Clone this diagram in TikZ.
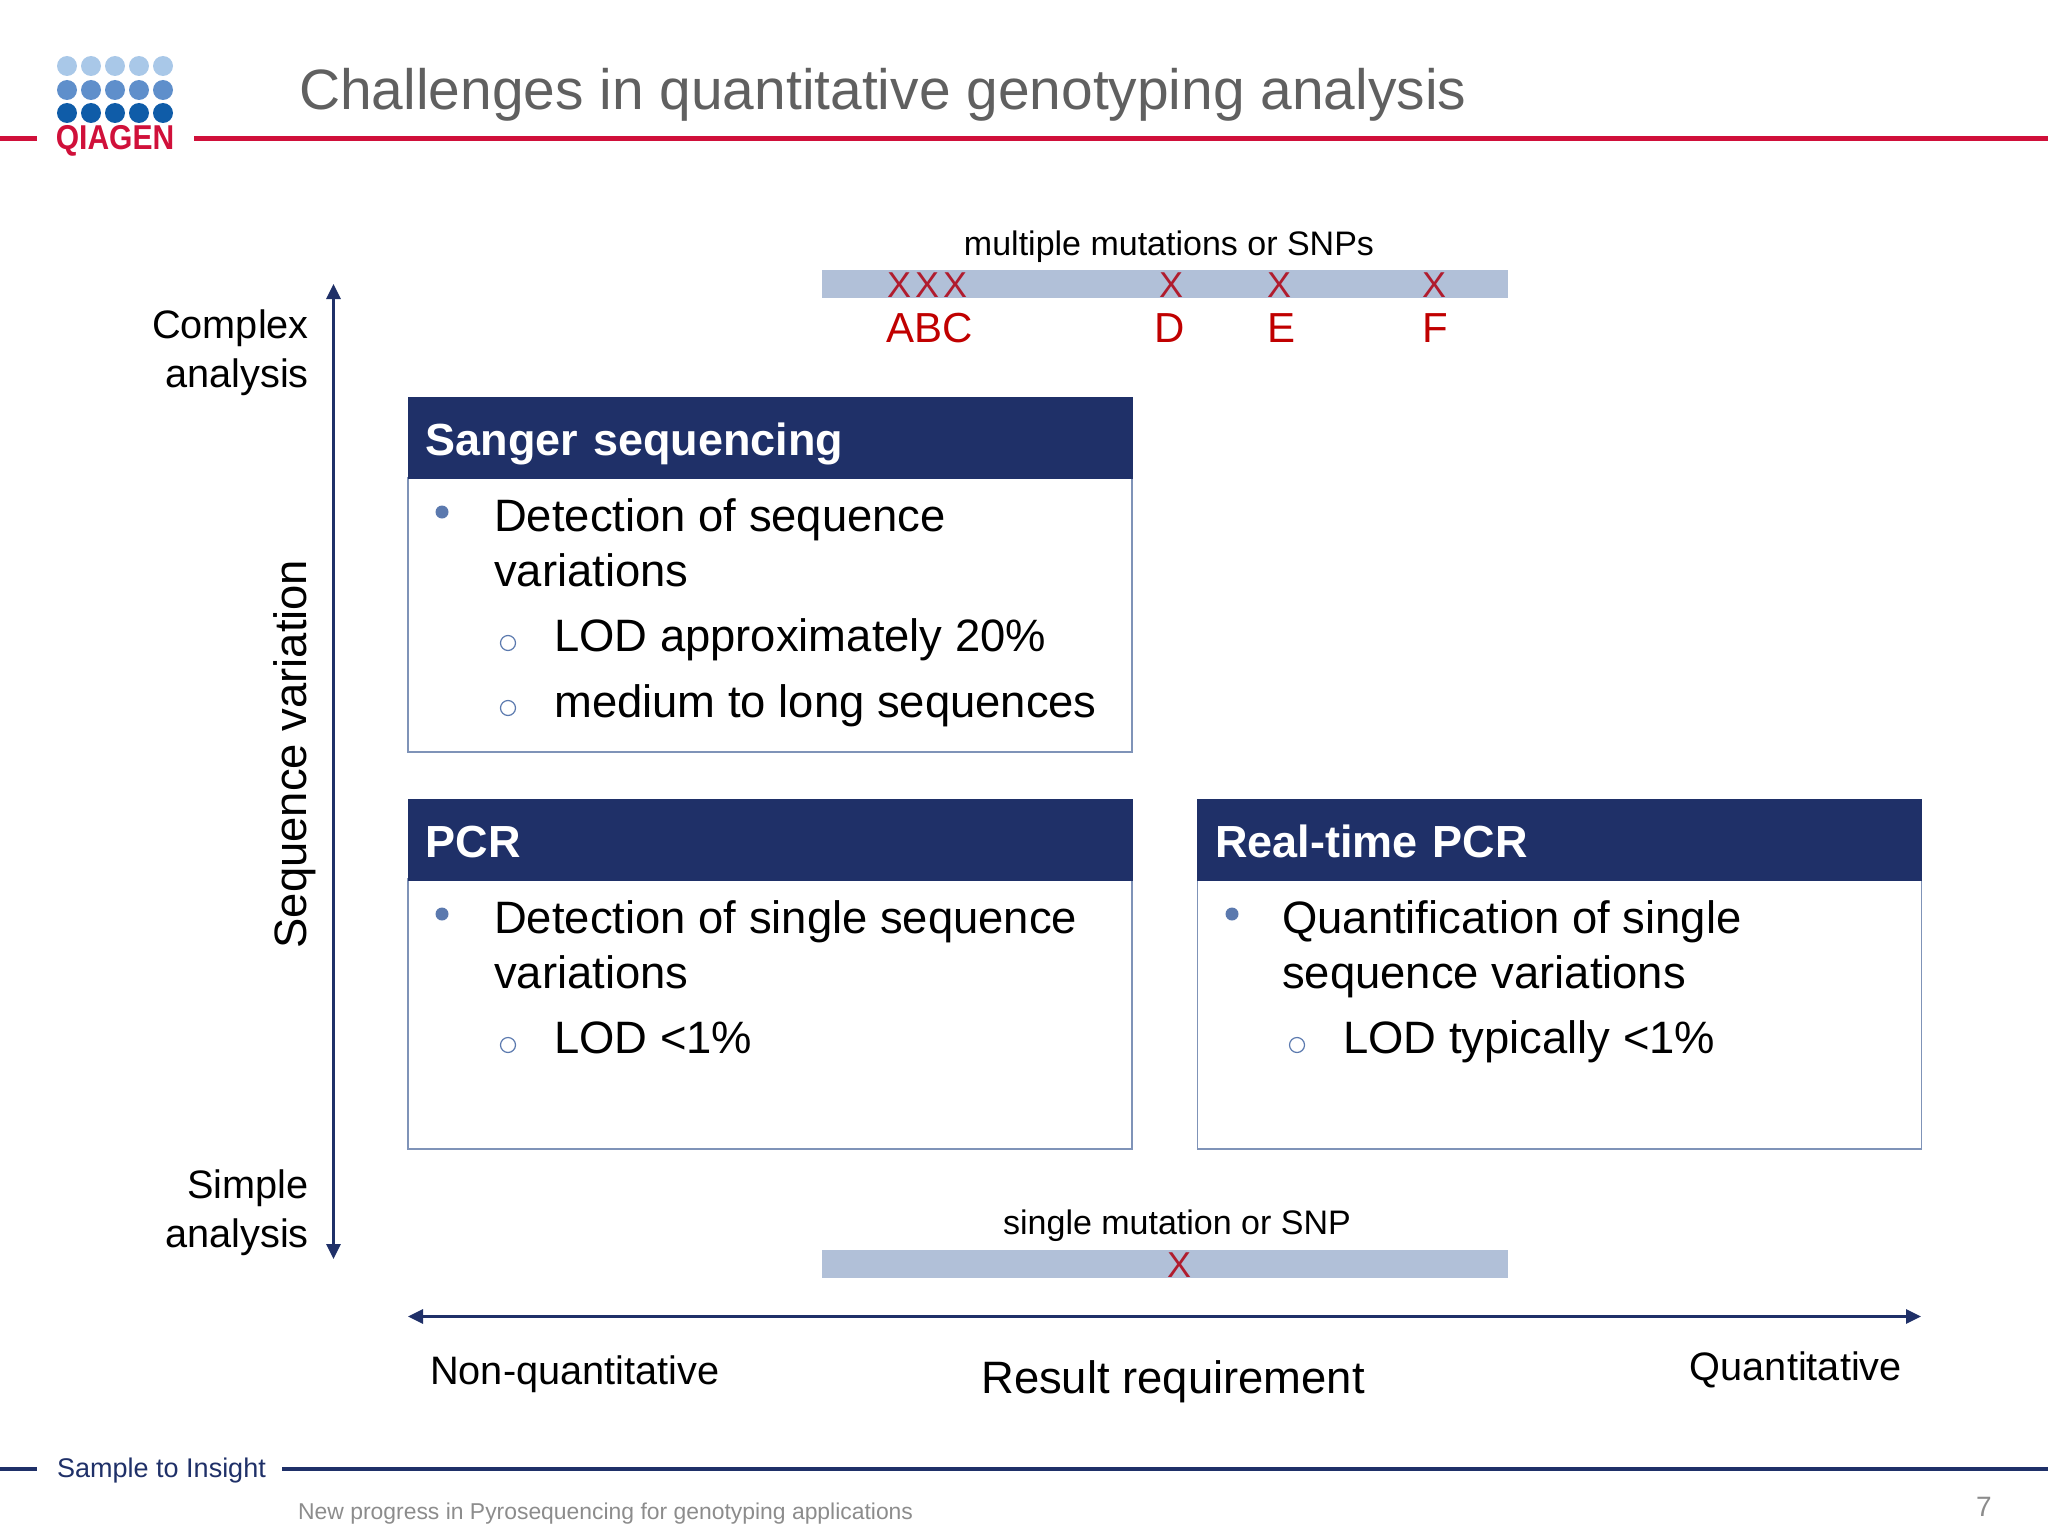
\documentclass[tikz,border=0pt]{standalone}
\usepackage{fontspec}
\setmainfont{Liberation Sans}
\usepackage{xcolor}
\usepackage{tikz}
\usetikzlibrary{shapes,arrows,arrows.meta}
\definecolor{navy}{HTML}{1F3068}
\definecolor{edgeblue}{HTML}{7F93B8}
\definecolor{barblue}{HTML}{B1C0D8}
\definecolor{dotblue}{HTML}{5B79AE}
\definecolor{qred}{HTML}{D0103A}
\definecolor{xred}{HTML}{B01C2E}
\definecolor{letterred}{HTML}{C00000}
\definecolor{titlegrey}{HTML}{606060}
\definecolor{footgrey}{HTML}{8C8C8C}
\newcommand{\fs}[1]{\fontsize{#1}{#1}\selectfont}

\begin{document}
\begin{tikzpicture}[x=1pt, y=-1pt]
	\tikzstyle{headbox} = [rectangle, draw=navy, fill=navy, text=white, minimum width=724pt, minimum height=81pt, text width=689pt, text height=35pt, text depth=0pt, inner sep=0pt, align=left, font=\fs{45}\bfseries]
	\tikzstyle{bodybox} = [rectangle, draw=edgeblue, line width=1.5pt, minimum width=724pt, inner sep=0pt]
	\tikzstyle{bar} = [rectangle, fill=barblue, minimum width=686pt, minimum height=28pt, inner sep=0pt]
	\tikzstyle{maintext} = [anchor=base west, inner sep=0pt, font=\fs{45.4}]
	\tikzstyle{sidetext} = [inner sep=0pt, font=\fs{39.7}]
	\tikzstyle{smalltext} = [inner sep=0pt, font=\fs{34}]
	\tikzstyle{cross} = [inner sep=0pt, text=xred, font=\fs{36}]
	\tikzstyle{letter} = [inner sep=0pt, text=letterred, font=\fs{42}]
	\tikzstyle{dotmark} = [circle, fill=dotblue, minimum size=13pt, inner sep=0pt]
	\tikzstyle{ring} = [circle, draw=dotblue, line width=1.2pt, minimum size=15pt, inner sep=0pt]
	\tikzstyle{rule} = [draw, line width=4.5pt]
	\tikzstyle{axisline} = [draw=navy, {Triangle[length=15pt,width=14pt]}-{Triangle[length=15pt,width=14pt]}, line width=3pt]
	\useasboundingbox (0,0) rectangle (2048,1536);
	% Header
	\node [anchor=base west, inner sep=0pt, text=titlegrey, font=\fs{56.9}] (title) at (299,110) {Challenges in quantitative genotyping analysis};
	\foreach \row/\rowy/\rowcol in {0/66/A9C8E8, 1/90/5F8FCB, 2/113/0F5CA8} {
		\definecolor{rowcolor}{HTML}{\rowcol}
		\foreach \col in {0,...,4}
			\fill [rowcolor] (67+24*\col,\rowy) circle (10);
	}
	\node [inner sep=0pt, text=qred, yscale=1.15, font=\fs{30}\bfseries] (logo) at (115,141) {QIAGEN};
	\coordinate (redl) at (0,138.5);
	\coordinate (redm) at (37,138.5);
	\coordinate (redn) at (194,138.5);
	\coordinate (redr) at (2048,138.5);
	\path [rule, draw=qred] (redl) -- (redm);
	\path [rule, draw=qred] (redn) -- (redr);
	% Mutation bars
	\node [bar] (topbar) at (1165,284) {};
	\node [smalltext] (multi) at (1169,247) {multiple mutations or SNPs};
	\node [cross] (xa) at (899,285) {X};
	\node [cross] (xb) at (927,285) {X};
	\node [cross] (xc) at (955,285) {X};
	\node [cross] (xd) at (1171,285) {X};
	\node [cross] (xe) at (1279,285) {X};
	\node [cross] (xf) at (1434,285) {X};
	\node [letter] (abc) at (930,328) {ABC};
	\node [letter] (d) at (1170,328) {D};
	\node [letter] (e) at (1281,328) {E};
	\node [letter] (f) at (1435,328) {F};
	\node [bar] (lowbar) at (1165,1264) {};
	\node [smalltext] (single) at (1177,1226) {single mutation or SNP};
	\node [cross] (xs) at (1179,1265) {X};
	% Boxes
	\node [bodybox, minimum height=274pt] (sangerbody) at (770,615) {};
	\node [headbox] (sanger) at (770,438) {Sanger sequencing};
	\node [bodybox, minimum height=270pt] (pcrbody) at (770,1014) {};
	\node [headbox] (pcr) at (770,840) {PCR};
	\node [bodybox, minimum height=270pt] (rtbody) at (1559.5,1014) {};
	\node [headbox, right of=pcr, node distance=789.5pt] (rt) {Real-time PCR};
	% Sanger text
	\node [dotmark] (d1) at (442,512) {};
	\node [maintext] (s1) at (494,531) {Detection of sequence};
	\node [maintext] (s2) at (494,586) {variations};
	\node [ring] (r1) at (508,643) {};
	\node [maintext] (s3) at (554,651) {LOD approximately 20\%};
	\node [ring] (r2) at (508,708) {};
	\node [maintext] (s4) at (554,717) {medium to long sequences};
	% PCR text
	\node [dotmark] (d2) at (442,914) {};
	\node [maintext] (p1) at (494,933) {Detection of single sequence};
	\node [maintext] (p2) at (494,988) {variations};
	\node [ring] (r3) at (508,1045) {};
	\node [maintext] (p3) at (554,1053) {LOD <1\%};
	% Real-time text
	\node [dotmark] (d3) at (1232,914) {};
	\node [maintext] (q1) at (1282,933) {Quantification of single};
	\node [maintext] (q2) at (1282,988) {sequence variations};
	\node [ring] (r4) at (1297,1045) {};
	\node [maintext] (q3) at (1343,1053) {LOD typically <1\%};
	% Axes
	\coordinate (ytop) at (333.5,284);
	\coordinate (ybot) at (333.5,1259);
	\coordinate (xleft) at (408,1316.5);
	\coordinate (xright) at (1921,1316.5);
	\path [axisline] (ytop) -- (ybot);
	\path [axisline] (xleft) -- (xright);
	\node [sidetext, anchor=base east] (complex) at (309,338) {Complex};
	\node [sidetext, anchor=base east] (complex2) at (309,387) {analysis};
	\node [sidetext, anchor=base east] (simple) at (309,1198) {Simple};
	\node [sidetext, anchor=base east] (simple2) at (309,1247) {analysis};
	\node [inner sep=0pt, rotate=90, font=\fs{45.4}] (seqvar) at (295,754) {Sequence variation};
	\node [sidetext, anchor=base west] (nonq) at (430,1384) {Non-quantitative};
	\node [inner sep=0pt, anchor=base, font=\fs{45.4}] (result) at (1173,1393) {Result requirement};
	\node [sidetext, anchor=base east] (quant) at (1902,1380) {Quantitative};
	% Footer
	\coordinate (navl) at (0,1469);
	\coordinate (navm) at (37,1469);
	\coordinate (navn) at (282,1469);
	\coordinate (navr) at (2048,1469);
	\path [rule, draw=navy] (navl) -- (navm);
	\path [rule, draw=navy] (navn) -- (navr);
	\node [anchor=west, inner sep=0pt, text=navy, font=\fs{27}] (slogan) at (57,1471) {Sample to Insight};
	\node [anchor=west, inner sep=0pt, text=footgrey, font=\fs{22.9}] (talk) at (298,1514) {New progress in Pyrosequencing for genotyping applications};
	\node [inner sep=0pt, text=footgrey, font=\fs{28}] (page) at (1984,1507) {7};
\end{tikzpicture}
\end{document}
